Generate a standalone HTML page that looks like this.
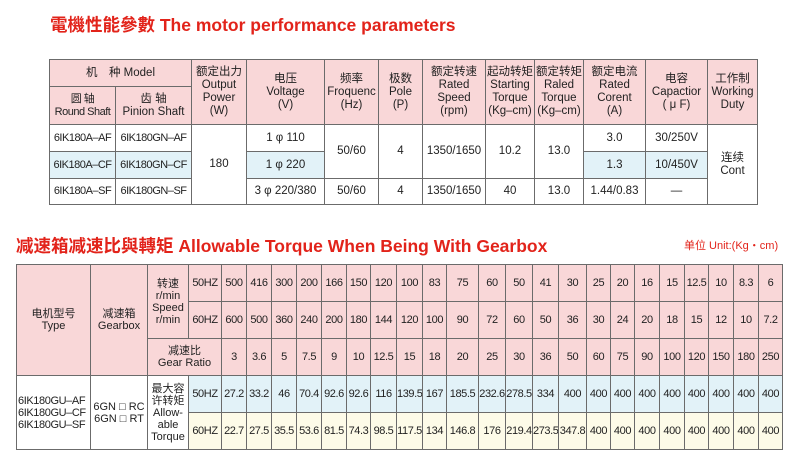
<!DOCTYPE html>
<html><head><meta charset="utf-8"><style>
body{margin:0;width:800px;height:462px;background:#fff;position:relative;overflow:hidden;font-family:"Liberation Sans","Noto Sans CJK SC",sans-serif;color:#222}
.t{position:absolute;color:#e2231a;font-weight:bold;font-size:17.5px;white-space:nowrap}
table{position:absolute;border-collapse:collapse;table-layout:fixed;font-size:11px;line-height:12px}
td{border:1px solid #6b6b6b;text-align:center;vertical-align:middle;padding:0;overflow:hidden;white-space:nowrap}
.t1{font-size:11.5px;line-height:13px}
.t2{letter-spacing:-0.4px}
.m{letter-spacing:-0.5px;font-size:11px}
.p{background:#f9d7d8}.b{background:#e2f2f8}.y{background:#fdfbe8}
</style></head><body>
<div class="t" style="left:50px;top:12px">電機性能參數 The motor performance parameters</div>
<table class="t1" style="left:49px;top:59px;width:708px">
<colgroup><col style="width:66px"><col style="width:76px"><col style="width:55px"><col style="width:78px"><col style="width:54px"><col style="width:44px"><col style="width:63px"><col style="width:49px"><col style="width:49px"><col style="width:62px"><col style="width:62px"><col style="width:50px"></colgroup>
<tr style="height:27px"><td class="p" colspan="2">机　种 Model</td><td class="p" rowspan="2">额定出力<br>Output<br>Power<br>(W)</td><td class="p" rowspan="2">电压<br>Voltage<br>(V)</td><td class="p" rowspan="2">频率<br>Froquenc<br>(Hz)</td><td class="p" rowspan="2">极数<br>Pole<br>(P)</td><td class="p" rowspan="2">额定转速<br>Rated<br>Speed<br>(rpm)</td><td class="p" rowspan="2">起动转矩<br>Starting<br>Torque<br>(Kg–cm)</td><td class="p" rowspan="2">额定转矩<br>Raled<br>Torque<br>(Kg–cm)</td><td class="p" rowspan="2">额定电流<br>Rated<br>Corent<br>(A)</td><td class="p" rowspan="2">电容<br>Capactior<br>( μ F)</td><td class="p" rowspan="2">工作制<br>Working<br>Duty</td></tr>
<tr style="height:38px"><td class="p m">圆 轴<br>Round Shaft</td><td class="p">齿 轴<br>Pinion Shaft</td></tr>
<tr style="height:27px"><td class="m">6IK180A–AF</td><td class="m">6IK180GN–AF</td><td rowspan="3">180</td><td>1 φ 110</td><td rowspan="2">50/60</td><td rowspan="2">4</td><td rowspan="2">1350/1650</td><td rowspan="2">10.2</td><td rowspan="2">13.0</td><td>3.0</td><td>30/250V</td><td rowspan="3">连续<br>Cont</td></tr>
<tr style="height:27px"><td class="b m">6IK180A–CF</td><td class="b m">6IK180GN–CF</td><td class="b">1 φ 220</td><td class="b">1.3</td><td class="b">10/450V</td></tr>
<tr style="height:26px"><td class="m">6IK180A–SF</td><td class="m">6IK180GN–SF</td><td>3 φ 220/380</td><td>50/60</td><td>4</td><td>1350/1650</td><td>40</td><td>13.0</td><td>1.44/0.83</td><td>—</td></tr>
</table>
<div class="t" style="left:16px;top:233px">减速箱减速比與轉矩 Allowable Torque When Being With Gearbox</div>
<div style="position:absolute;left:684px;top:237px;font-size:11px;color:#e2231a;white-space:nowrap">单位 Unit:(Kg・cm)</div>
<table class="t2" style="left:16px;top:264px;width:766px">
<colgroup><col style="width:74px"><col style="width:57px"><col style="width:41px"><col style="width:33px"><col style="width:25px"><col style="width:25px"><col style="width:25px"><col style="width:25px"><col style="width:25px"><col style="width:24px"><col style="width:26px"><col style="width:26px"><col style="width:24px"><col style="width:32px"><col style="width:27px"><col style="width:27px"><col style="width:26px"><col style="width:28px"><col style="width:24px"><col style="width:24px"><col style="width:25px"><col style="width:25px"><col style="width:24px"><col style="width:25px"><col style="width:25px"><col style="width:24px"></colgroup>
<tr style="height:37px" class="p"><td rowspan="3" style="letter-spacing:0">电机型号<br>Type</td><td rowspan="3" style="letter-spacing:0">减速箱<br>Gearbox</td><td rowspan="2" style="letter-spacing:0">转速<br>r/min<br>Speed<br>r/min</td><td>50HZ</td><td>500</td><td>416</td><td>300</td><td>200</td><td>166</td><td>150</td><td>120</td><td>100</td><td>83</td><td>75</td><td>60</td><td>50</td><td>41</td><td>30</td><td>25</td><td>20</td><td>16</td><td>15</td><td>12.5</td><td>10</td><td>8.3</td><td>6</td></tr>
<tr style="height:37px" class="p"><td>60HZ</td><td>600</td><td>500</td><td>360</td><td>240</td><td>200</td><td>180</td><td>144</td><td>120</td><td>100</td><td>90</td><td>72</td><td>60</td><td>50</td><td>36</td><td>30</td><td>24</td><td>20</td><td>18</td><td>15</td><td>12</td><td>10</td><td>7.2</td></tr>
<tr style="height:37px" class="p"><td colspan="2" style="letter-spacing:0">减速比<br>Gear Ratio</td><td>3</td><td>3.6</td><td>5</td><td>7.5</td><td>9</td><td>10</td><td>12.5</td><td>15</td><td>18</td><td>20</td><td>25</td><td>30</td><td>36</td><td>50</td><td>60</td><td>75</td><td>90</td><td>100</td><td>120</td><td>150</td><td>180</td><td>250</td></tr>
<tr style="height:37px" class="b"><td rowspan="2" style="background:#fff;text-align:left;padding-left:1px">6IK180GU–AF<br>6IK180GU–CF<br>6IK180GU–SF</td><td rowspan="2" style="background:#fff;letter-spacing:0">6GN □ RC<br>6GN □ RT</td><td rowspan="2" style="background:#fff;letter-spacing:0">最大容<br>许转矩<br>Allow-<br>able<br>Torque</td><td>50HZ</td><td>27.2</td><td>33.2</td><td>46</td><td>70.4</td><td>92.6</td><td>92.6</td><td>116</td><td>139.5</td><td>167</td><td>185.5</td><td>232.6</td><td>278.5</td><td>334</td><td>400</td><td>400</td><td>400</td><td>400</td><td>400</td><td>400</td><td>400</td><td>400</td><td>400</td></tr>
<tr style="height:37px" class="y"><td>60HZ</td><td>22.7</td><td>27.5</td><td>35.5</td><td>53.6</td><td>81.5</td><td>74.3</td><td>98.5</td><td>117.5</td><td>134</td><td>146.8</td><td>176</td><td>219.4</td><td>273.5</td><td>347.8</td><td>400</td><td>400</td><td>400</td><td>400</td><td>400</td><td>400</td><td>400</td><td>400</td></tr>
</table>
</body></html>
